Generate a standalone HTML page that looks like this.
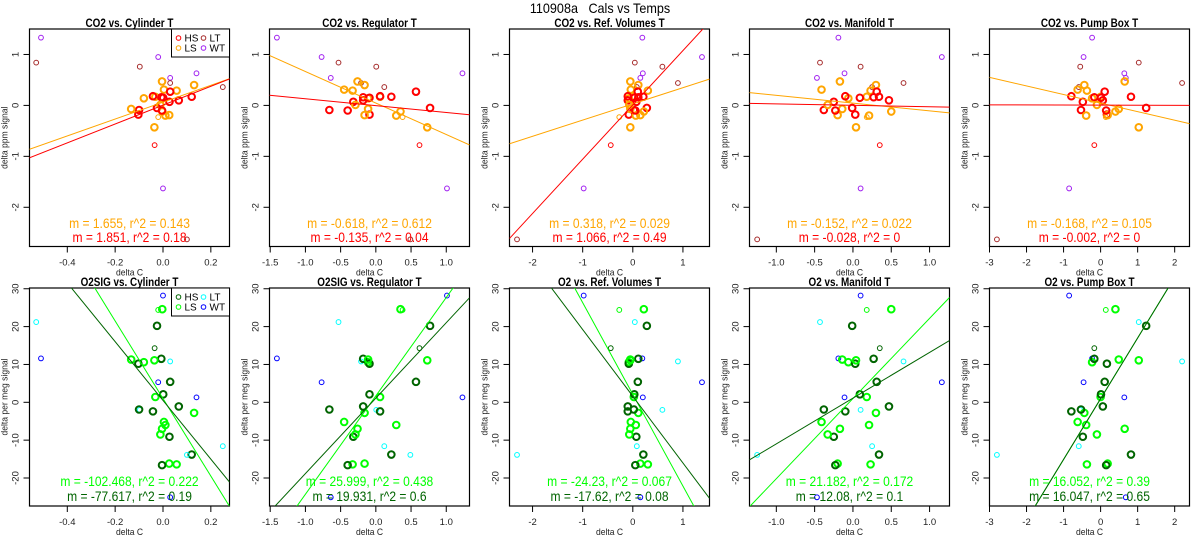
<!DOCTYPE html>
<html><head><meta charset="utf-8">
<style>
html,body{margin:0;padding:0;background:#fff;width:1200px;height:550px;overflow:hidden;}
svg{display:block;font-family:"Liberation Sans",sans-serif;}
</style></head>
<body>
<svg id="chart" width="1200" height="550" viewBox="0 0 1200 550" xmlns="http://www.w3.org/2000/svg">
<rect width="1200" height="550" fill="#fff"/>
<text id="maintitle" x="600" y="13" text-anchor="middle" font-size="14" style="white-space:pre">110908a   Cals vs Temps</text>
</svg>
<script>
// ---- data ----
const groups = ["WT","LT","LT","WT","WT","WT","LT","LT","LS","LS","LS","LS","LS","LS","HS","HS","HS","HS","HS","HS","HS","HS","HS","HS","LS","LS","LS","LS","LS","LS","LS","HS","LT","WT","HS"];
const thinPts = [1,1,1,1,1,1,1,1,0,0,0,0,0,0,0,0,0,0,0,0,0,0,0,0,0,0,0,0,0,1,0,1,1,1,0];
const co2Values = [1.33,0.84,0.76,0.95,0.54,0.63,0.44,0.36,0.47,0.31,0.29,0.40,0.14,0.17,0.18,0.16,0.15,0.27,0.07,0.10,0.17,-0.09,-0.18,-0.05,-0.07,0.01,-0.12,-0.20,-0.19,-0.23,-0.43,-0.78,-2.63,-1.63,-0.10];
const o2Values = [11.6,21.2,-2.0,5.3,-25.1,1.3,10.8,-11.6,-7.0,-5.2,-16.4,-2.8,10.6,1.4,-2.4,11.5,2.1,5.4,-9.1,-1.1,-13.8,-1.9,10.2,20.2,11.3,-8.5,24.6,-6.0,-16.2,24.4,11.1,14.3,-13.9,28.2,-16.6];
const xCylinder = [-0.51,-0.53,-0.097,-0.02,0.03,0.14,0.03,0.25,-0.004,0.004,0.057,0.13,-0.08,-0.032,-0.042,-0.007,0.001,0.03,0.027,0.066,0.12,-0.1,-0.103,-0.025,-0.133,-0.011,-0.003,0.01,0.026,-0.02,-0.036,-0.035,0.1,0.0,-0.004];
const xRegulator = [-1.405,-0.53,0.006,-0.77,-0.64,1.23,-0.21,0.12,-0.26,-0.45,-0.33,-0.16,-0.11,0.06,0.06,-0.18,-0.09,0.57,-0.32,-0.18,0.22,-0.66,-0.09,0.77,-0.11,-0.29,0.35,0.29,-0.16,0.38,0.73,0.62,0.49,1.01,-0.4];
const xRefVolumes = [0.19,0.04,0.59,1.38,0.15,0.2,0.9,0.08,-0.05,-0.04,0.3,0.11,-0.08,0.02,-0.1,0.11,0.03,0.1,0.07,-0.1,0.21,0.02,-0.08,0.28,-0.05,-0.07,0.22,0.06,0.15,-0.27,-0.05,-0.44,-2.31,-0.98,0.05];
const xManifold = [-0.19,-0.43,0.1,1.16,-0.47,-0.11,0.66,0.25,-0.17,-0.41,0.23,0.3,-0.06,0.18,-0.1,0.27,0.09,0.31,-0.25,0.47,0.34,-0.38,0.03,-0.01,-0.14,-0.33,0.5,0.21,-0.2,0.18,0.04,0.35,-1.25,0.1,-0.23];
const xPumpBox = [-0.23,1.03,-0.55,-0.46,0.68,0.64,2.2,-0.59,0.65,-0.62,-0.37,-0.44,-0.23,0,-0.79,-0.17,0.01,0.11,-0.48,0.06,0.82,-0.53,0.17,1.23,0.49,-0.1,0.4,-0.39,0.19,0.14,1.03,-0.17,-2.8,-0.85,0.15];
const topTitles = ["CO2 vs. Cylinder T","CO2 vs. Regulator T","CO2 vs. Ref. Volumes T","CO2 vs. Manifold T","CO2 vs. Pump Box T"];
const bottomTitles = ["O2SIG vs. Cylinder T","O2SIG vs. Regulator T","O2 vs. Ref. Volumes T","O2 vs. Manifold T","O2 vs. Pump Box T"];
const xMin = [-0.558,-1.51,-2.46,-1.35,-3.0];
const xMax = [0.278,1.33,1.53,1.26,2.4];
const xTicks = [[-0.4,-0.2,0.0,0.2],[-1.5,-1.0,-0.5,0.0,0.5,1.0],[-2,-1,0,1],[-1.0,-0.5,0.0,0.5,1.0],[-3,-2,-1,0,1,2]];
const xTickLabels = [["-0.4","-0.2","0.0","0.2"],["-1.5","-1.0","-0.5","0.0","0.5","1.0"],["-2","-1","0","1"],["-1.0","-0.5","0.0","0.5","1.0"],["-3","-2","-1","0","1","2"]];
const co2Ticks = [1,0,-1,-2];
const o2Ticks = [30,20,10,0,-10,-20];
const co2SlopeLS = [1.655,-0.618,0.318,-0.152,-0.168];
const co2InterLS = [0.063,0.047,0.03,0.045,0.046];
const co2R2LS = ["0.143","0.612","0.029","0.022","0.105"];
const co2SlopeHS = [1.851,-0.135,1.066,-0.028,-0.002];
const co2InterHS = [0.005,-0.004,0.01,0.002,0.005];
const co2R2HS = ["0.18","0.04","0.49","0","0"];
const o2SlopeLS = [-102.468,25.999,-24.23,21.182,16.052];
const o2InterLS = [1.0,1.7,2.1,1.0,0.95];
const o2R2LS = ["0.222","0.438","0.067","0.172","0.39"];
const o2SlopeHS = [-77.617,19.931,-17.62,12.08,16.047];
const o2InterHS = [0.5,1.1,1.6,1.1,0.95];
const o2R2HS = ["0.19","0.6","0.08","0.1","0.65"];

const xCols = [xCylinder,xRegulator,xRefVolumes,xManifold,xPumpBox];
const NS = "http://www.w3.org/2000/svg";
const svg = document.getElementById('chart');
function mk(tag, attrs, parent){const e=document.createElementNS(NS,tag);for(const k in attrs)e.setAttribute(k,attrs[k]);(parent||svg).appendChild(e);return e;}
function condense(el,f){const w=el.getComputedTextLength();if(w>0){el.setAttribute('textLength',(w*f).toFixed(1));el.setAttribute('lengthAdjust','spacingAndGlyphs');}}
const topColors = {HS:"#FF0000",LS:"#FFA500",LT:"#A52A2A",WT:"#A020F0"};
const botColors = {HS:"#006400",LS:"#00FF00",LT:"#00FFFF",WT:"#0000FF"};
const PW = 200;
function fmt(v){return (v<0?"-":"")+Math.abs(v).toString();}
condense(document.getElementById('maintitle'),0.9);

function drawPanel(col,row){
  const L = 29.5 + 240*col, R = L+PW;
  const T = row===0 ? 29 : 288, B = row===0 ? 246.5 : 506;
  const yMin = row===0 ? -2.77 : -27.4, yMax = row===0 ? 1.5 : 30.2;
  const sx = v => L + (v - xMin[col])/(xMax[col]-xMin[col])*PW;
  const sy = v => B - (v - yMin)/(yMax-yMin)*(B-T);
  const g = mk('g',{});
  
  
  const cid = 'clip'+row+col;
  const cp = mk('clipPath',{id:cid},g); mk('rect',{x:L,y:T,width:PW,height:B-T},cp);
  const t = mk('text',{x:(L+R)/2,y:T-2,'text-anchor':'middle','font-size':'11.5','font-weight':'bold'},g);
  t.textContent = row===0?topTitles[col]:bottomTitles[col];
  
  
  condense(t,0.86);
  xTicks[col].forEach((v,i)=>{
    const x=sx(v);
    mk('line',{x1:x,y1:B,x2:x,y2:B+6,stroke:'#000','stroke-width':1},g);
    const tl=mk('text',{x:x,y:B+19,'text-anchor':'middle','font-size':'9.5',fill:'#222'},g);
    tl.textContent=xTickLabels[col][i];
    
    
  });
  mk('line',{x1:sx(xTicks[col][0]),y1:B,x2:sx(xTicks[col][xTicks[col].length-1]),y2:B,stroke:'#000'},g);
  const xl=mk('text',{x:(L+R)/2,y:B+29,'text-anchor':'middle','font-size':'9.5',fill:'#222'},g);
  xl.textContent='delta C';
  
  
  condense(xl,0.9);
  const yt = row===0?co2Ticks:o2Ticks;
  yt.forEach(v=>{
    const y=sy(v);
    mk('line',{x1:L-6,y1:y,x2:L,y2:y,stroke:'#000'},g);
    const tl=mk('text',{x:0,y:0,'text-anchor':'middle','font-size':'9.5',fill:'#222',transform:`translate(${L-11},${y}) rotate(-90)`},g);
    tl.textContent=String(v);
    
    
  });
  mk('line',{x1:L,y1:sy(yt[0]),x2:L,y2:sy(yt[yt.length-1]),stroke:'#000'},g);
  const yl=mk('text',{x:0,y:0,'text-anchor':'middle','font-size':'9.5',fill:'#222',transform:`translate(${L-22},${(T+B)/2}) rotate(-90)`},g);
  yl.textContent=row===0?'delta ppm signal':'delta per meg signal';
  
  
  condense(yl,0.9);
  mk('rect',{x:L,y:T,width:PW,height:B-T,fill:'none',stroke:'#000','stroke-width':1.2},g);
  const yv = row===0?co2Values:o2Values;
  const cols = row===0?topColors:botColors;
  const xs = xCols[col];
  const pg = mk('g',{'clip-path':`url(#${cid})`},g);
  for(let i=0;i<xs.length;i++){
    const thin = thinPts[i]===1;
    const c=mk('circle',{cx:sx(xs[i]),cy:sy(yv[i]),r:thin?2.4:3.3,fill:'none',stroke:cols[groups[i]],'stroke-width':thin?1:2},pg);
    
    
  }
  const sl = row===0?[co2SlopeLS[col],co2SlopeHS[col]]:[o2SlopeLS[col],o2SlopeHS[col]];
  const ic = row===0?[co2InterLS[col],co2InterHS[col]]:[o2InterLS[col],o2InterHS[col]];
  const lc = [cols.LS, cols.HS];
  for(let k=0;k<2;k++){
    const x0=xMin[col], x1=xMax[col];
    const ln=mk('line',{x1:sx(x0),y1:sy(ic[k]+sl[k]*x0),x2:sx(x1),y2:sy(ic[k]+sl[k]*x1),stroke:lc[k],'stroke-width':1},pg);
    
    
  }
  const r2 = row===0?[co2R2LS[col],co2R2HS[col]]:[o2R2LS[col],o2R2HS[col]];
  const ay = row===0?[228,242]:[486,501];
  for(let k=0;k<2;k++){
    const a=mk('text',{x:(L+R)/2,y:ay[k],'text-anchor':'middle','font-size':'14',fill:lc[k]},g);
    a.textContent=`m = ${fmt(sl[k])}, r^2 = ${r2[k]}`;
    
    
    condense(a,0.86);
  }
  if(col===0){
    const lg=mk('g',{},g);
    
    
    mk('rect',{x:R-58,y:T,width:58,height:28,fill:'#fff',stroke:'#000','stroke-width':1},lg);
    const items=[["HS",R-51,T+9],["LS",R-51,T+19],["LT",R-26,T+9],["WT",R-26,T+19]];
    items.forEach(it=>{
      mk('circle',{cx:it[1],cy:it[2],r:2.3,fill:'none',stroke:cols[it[0]],'stroke-width':1},lg);
      const lt=mk('text',{x:it[1]+6,y:it[2]+3.5,'font-size':'10'},lg);
      lt.textContent=it[0];
      
      
    });
  }
}
for(let r=0;r<2;r++)for(let c=0;c<5;c++)drawPanel(c,r);
</script>
</body></html>
